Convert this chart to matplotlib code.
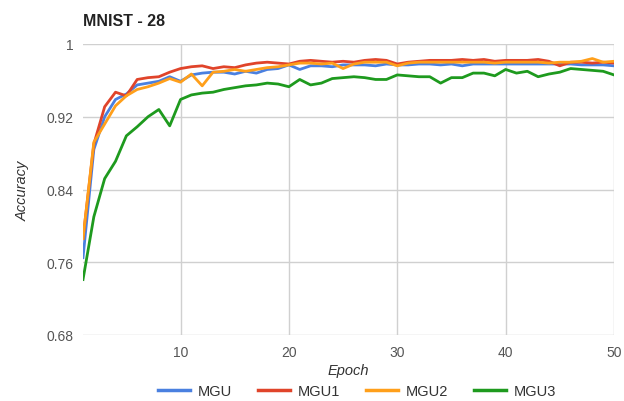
import matplotlib
matplotlib.use("Agg")
import matplotlib.pyplot as plt
from matplotlib.lines import Line2D

epochs = list(range(1, 51))

mgu = [0.765, 0.884, 0.920, 0.939, 0.945, 0.955, 0.957, 0.959, 0.964, 0.959,
       0.966, 0.968, 0.969, 0.969, 0.967, 0.970, 0.968, 0.972, 0.973, 0.977,
       0.972, 0.976, 0.976, 0.975, 0.977, 0.977, 0.977, 0.976, 0.978, 0.977,
       0.977, 0.978, 0.978, 0.977, 0.978, 0.976, 0.978, 0.978, 0.978, 0.978,
       0.978, 0.978, 0.978, 0.978, 0.978, 0.978, 0.977, 0.977, 0.977, 0.976]

mgu1 = [0.786, 0.890, 0.931, 0.947, 0.943, 0.961, 0.963, 0.964, 0.969, 0.973,
        0.975, 0.976, 0.973, 0.975, 0.974, 0.977, 0.979, 0.980, 0.979, 0.978,
        0.981, 0.982, 0.981, 0.980, 0.981, 0.980, 0.982, 0.983, 0.982, 0.978,
        0.980, 0.981, 0.982, 0.982, 0.982, 0.983, 0.982, 0.983, 0.981, 0.982,
        0.982, 0.982, 0.983, 0.981, 0.976, 0.980, 0.980, 0.979, 0.980, 0.979]

mgu2 = [0.786, 0.892, 0.912, 0.932, 0.943, 0.950, 0.953, 0.957, 0.962, 0.958,
        0.967, 0.954, 0.969, 0.970, 0.972, 0.970, 0.972, 0.974, 0.975, 0.977,
        0.979, 0.979, 0.978, 0.979, 0.973, 0.978, 0.980, 0.980, 0.980, 0.976,
        0.979, 0.980, 0.980, 0.980, 0.980, 0.980, 0.980, 0.980, 0.979, 0.980,
        0.980, 0.980, 0.980, 0.979, 0.980, 0.980, 0.981, 0.984, 0.980, 0.981]

mgu3 = [0.741, 0.810, 0.852, 0.871, 0.899, 0.909, 0.920, 0.928, 0.910, 0.939,
        0.944, 0.946, 0.947, 0.950, 0.952, 0.954, 0.955, 0.957, 0.956, 0.953,
        0.961, 0.955, 0.957, 0.962, 0.963, 0.964, 0.963, 0.961, 0.961, 0.966,
        0.965, 0.964, 0.964, 0.957, 0.963, 0.963, 0.968, 0.968, 0.965, 0.972,
        0.968, 0.970, 0.964, 0.967, 0.969, 0.973, 0.972, 0.971, 0.970, 0.966]

series = [("MGU", mgu, "#4a80e0"), ("MGU1", mgu1, "#e0442a"),
          ("MGU2", mgu2, "#ff9f1a"), ("MGU3", mgu3, "#1e9a1e")]

y_ticks = [0.68, 0.76, 0.84, 0.92, 1.0]
y_labels = ["0.68", "0.76", "0.84", "0.92", "1"]
x_ticks = [10, 20, 30, 40, 50]

plt.rcParams['font.family'] = ['Liberation Sans', 'DejaVu Sans']

fig = plt.figure(figsize=(6.24, 4.02), dpi=100)
ax = fig.add_axes([83/624, 1-336/402, (614-83)/624, (336-45)/402])

for name, vals, col in series:
    ax.plot(epochs, vals, color=col, lw=2.0, label=name, solid_joinstyle='round')

ax.set_xlim(1, 50)
ax.set_ylim(0.68, 1.0)
ax.set_yticks(y_ticks)
ax.set_yticklabels(y_labels)
ax.set_xticks(x_ticks)
ax.grid(True, color="#d0d0d0", lw=1.0)
ax.set_axisbelow(True)
for s in ax.spines.values():
    s.set_visible(False)
ax.tick_params(length=0, labelsize=10, colors="#555555", pad=7)
ax.set_xlabel("Epoch", fontsize=10.5, style="italic", color="#333333", labelpad=3)
ax.set_ylabel("Accuracy", fontsize=10.5, style="italic", color="#333333", labelpad=12)

fig.text(83/624, 1-22/402, "MNIST - 28", fontsize=11.5, fontweight="bold",
         color="#222222", va="center", ha="left")

handles = [Line2D([0], [0], color=c, lw=2.5) for _, _, c in series]
fig.legend(handles, [n for n, _, _ in series], loc="center",
           bbox_to_anchor=(357/624, 1-392/402), ncol=4, frameon=False,
           fontsize=10.5, handlelength=2.2, columnspacing=1.8, handletextpad=0.5,
           labelcolor="#333333")

fig.savefig("out.png", dpi=100)
